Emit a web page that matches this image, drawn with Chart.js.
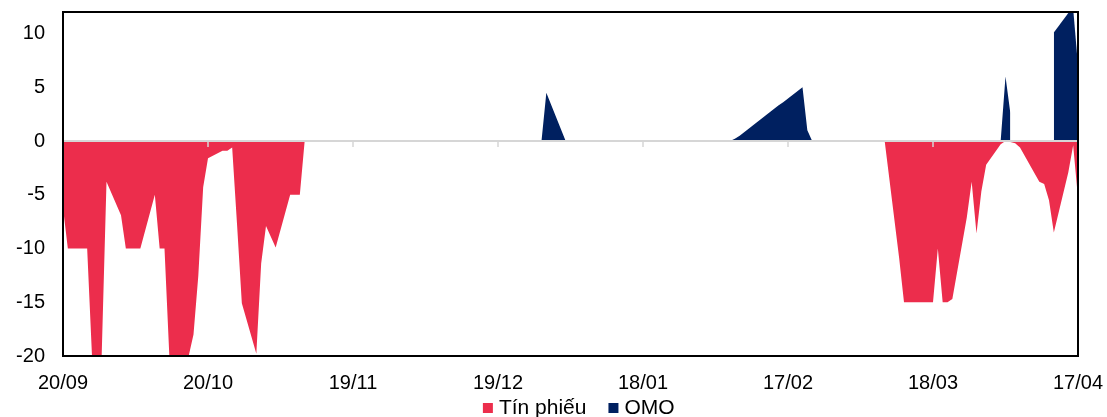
<!DOCTYPE html>
<html><head><meta charset="utf-8">
<script src="https://cdn.jsdelivr.net/npm/chart.js@4.4.0/dist/chart.umd.min.js"></script>
<style>html,body{margin:0;padding:0;background:#fff;overflow:hidden}#wrap{width:1107px;height:417px;position:relative}</style>
</head><body><div id="wrap"><canvas id="c" width="1107" height="417"></canvas></div>
<script>
const dates = [
'2023-09-20','2023-09-21','2023-09-22',
'2023-09-25','2023-09-26','2023-09-27','2023-09-28','2023-09-29',
'2023-10-02','2023-10-03','2023-10-04','2023-10-05','2023-10-06',
'2023-10-09','2023-10-10','2023-10-11','2023-10-12','2023-10-13',
'2023-10-16','2023-10-17','2023-10-18','2023-10-19','2023-10-20',
'2023-10-23','2023-10-24','2023-10-25','2023-10-26','2023-10-27',
'2023-10-30','2023-10-31','2023-11-01','2023-11-02','2023-11-03',
'2023-11-06','2023-11-07','2023-11-08','2023-11-09','2023-11-10',
'2023-11-13','2023-11-14','2023-11-15','2023-11-16','2023-11-17',
'2023-11-20','2023-11-21','2023-11-22','2023-11-23','2023-11-24',
'2023-11-27','2023-11-28','2023-11-29','2023-11-30','2023-12-01',
'2023-12-04','2023-12-05','2023-12-06','2023-12-07','2023-12-08',
'2023-12-11','2023-12-12','2023-12-13','2023-12-14','2023-12-15',
'2023-12-18','2023-12-19','2023-12-20','2023-12-21','2023-12-22',
'2023-12-25','2023-12-26','2023-12-27','2023-12-28','2023-12-29',
'2024-01-02','2024-01-03','2024-01-04','2024-01-05',
'2024-01-08','2024-01-09','2024-01-10','2024-01-11','2024-01-12',
'2024-01-15','2024-01-16','2024-01-17','2024-01-18','2024-01-19',
'2024-01-22','2024-01-23','2024-01-24','2024-01-25','2024-01-26',
'2024-01-29','2024-01-30','2024-01-31','2024-02-01','2024-02-02',
'2024-02-05','2024-02-06','2024-02-07',
'2024-02-15','2024-02-16',
'2024-02-19','2024-02-20','2024-02-21','2024-02-22','2024-02-23',
'2024-02-26','2024-02-27','2024-02-28','2024-02-29','2024-03-01',
'2024-03-04','2024-03-05','2024-03-06','2024-03-07','2024-03-08',
'2024-03-11','2024-03-12','2024-03-13','2024-03-14','2024-03-15',
'2024-03-18','2024-03-19','2024-03-20','2024-03-21','2024-03-22',
'2024-03-25','2024-03-26','2024-03-27','2024-03-28','2024-03-29',
'2024-04-01','2024-04-02','2024-04-03','2024-04-04','2024-04-05',
'2024-04-08','2024-04-09','2024-04-10','2024-04-11','2024-04-12',
'2024-04-15','2024-04-16','2024-04-17'
];
const tinPhieu = [
-6.2,-10,-10,
-10,-20,-20,-20,-3.8,
-6.9,-10,-10,-10,-10,
-5,-10,-10,-20,-20,
-20,-18,-12.5,-4.3,-1.6,
-0.9,-0.9,-0.6,-7.7,-15.1,
-19.8,-11.4,-7.9,-8.9,-9.9,
-5,-5,-5,0,0,
0,0,0,0,0,
0,0,0,0,0,
0,0,0,0,0,
0,0,0,0,0,
0,0,0,0,0,
0,0,0,0,0,
0,0,0,0,0,
0,0,0,0,
0,0,0,0,0,
0,0,0,0,0,
0,0,0,0,0,
0,0,0,0,0,
0,0,0,
0,0,
0,0,0,0,0,
0,0,0,0,0,
0,0,0,0,0,
-10.9,-15,-15,-15,-15,
-15,-10,-15,-15,-14.7,
-7.1,-3.8,-8.6,-4.7,-2.2,
-0.3,0,-0.1,-0.2,-0.6,
-3.0,-3.8,-4.0,-5.5,-8.5,
-2.9,-0.4,-5.3
];
const omo = [
0,0,0,
0,0,0,0,0,
0,0,0,0,0,
0,0,0,0,0,
0,0,0,0,0,
0,0,0,0,0,
0,0,0,0,0,
0,0,0,0,0,
0,0,0,0,0,
0,0,0,0,0,
0,0,0,0,0,
0,0,0,0,0,
0,0,0,0,0,
0,0,0,0,0,
0,0,0,0,4.5,
0,0,0,0,
0,0,0,0,0,
0,0,0,0,0,
0,0,0,0,0,
0,0,0,0,0,
0,0.2,0.5,
3.3,3.6,
4.65,5,1,0,0,
0,0,0,0,0,
0,0,0,0,0,
0,0,0,0,0,
0,0,0,0,0,
0,0,0,0,0,
0,6,2.6,null,null,
null,null,null,null,10.1,
11.9,12.3,7
];
const seriesNames = ['Tín phiếu', 'OMO'];
const tickDates = ['2023-09-20','2023-10-20','2023-11-19','2023-12-19','2024-01-18','2024-02-17','2024-03-18','2024-04-17'];
const yTicks = [-20, -15, -10, -5, 0, 5, 10];

const DAY = 864e5;
const t0 = Date.parse(dates[0]);
const off = s => Math.round((Date.parse(s) - t0) / DAY);
const pts = arr => arr.map((v, i) => ({x: off(dates[i]), y: v}));
const fmt = v => { const d = new Date(t0 + v * DAY); return String(d.getUTCDate()).padStart(2,'0') + '/' + String(d.getUTCMonth()+1).padStart(2,'0'); };

Chart.defaults.font.family = 'Liberation Sans, Arial, sans-serif';
Chart.defaults.font.size = 20;
Chart.defaults.color = '#000';

const frame = {
  id: 'frame',
  afterLayout(chart) {
    const l = chart.legend;
    if (l) {
      l.left += 35; l.right += 35;
      l.top = chart.chartArea.bottom + 15; l.bottom = l.top + l.height;
    }
  },
  afterDatasetsDraw(chart) {
    const {ctx, chartArea: a, scales: {x, y}} = chart;
    const y0 = y.getPixelForValue(0);
    ctx.save();
    ctx.strokeStyle = '#d6d6d6';
    ctx.lineWidth = 2;
    ctx.beginPath(); ctx.moveTo(a.left, y0); ctx.lineTo(a.right, y0); ctx.stroke();
    ctx.lineWidth = 1.5;
    x.ticks.forEach(t => {
      const px = x.getPixelForValue(t.value);
      ctx.beginPath(); ctx.moveTo(px, y0); ctx.lineTo(px, y0 + 6); ctx.stroke();
    });
    ctx.strokeStyle = '#000';
    ctx.lineWidth = 2;
    ctx.strokeRect(a.left, a.top, a.right - a.left, a.bottom - a.top);
    ctx.restore();
  }
};

new Chart(document.getElementById('c'), {
  type: 'line',
  data: {
    datasets: [
      {label: seriesNames[0], data: pts(tinPhieu), backgroundColor: '#EC2D4C', borderColor: 'transparent', borderWidth: 0, pointRadius: 0, fill: 'origin', spanGaps: 10, tension: 0},
      {label: seriesNames[1], data: pts(omo), backgroundColor: '#002060', borderColor: 'transparent', borderWidth: 0, pointRadius: 0, fill: 'origin', spanGaps: 10, tension: 0}
    ]
  },
  options: {
    responsive: false,
    devicePixelRatio: 1,
    animation: false,
    events: [],
    layout: {padding: {left: 14, right: 29, top: 12, bottom: -40.5}},
    scales: {
      x: {
        type: 'linear',
        min: 0,
        max: off(dates[dates.length - 1]),
        afterBuildTicks: s => { s.ticks = tickDates.map(d => ({value: off(d)})); },
        afterFit: s => { s.height = 44; s.paddingLeft = 0; s.paddingRight = 0; s.paddingTop = 0; s.paddingBottom = 0; },
        ticks: {callback: v => fmt(v), maxRotation: 0, autoSkip: false, padding: 15},
        grid: {display: false, drawTicks: false},
        border: {display: false}
      },
      y: {
        min: -20,
        max: 12,
        afterBuildTicks: s => { s.ticks = yTicks.map(v => ({value: v})); },
        afterFit: s => { s.width = 49; s.paddingLeft = 0; s.paddingRight = 0; s.paddingTop = 0; s.paddingBottom = 0; },
        ticks: {padding: 18},
        grid: {display: false, drawTicks: false},
        border: {display: false}
      }
    },
    plugins: {
      legend: {position: 'bottom', labels: {usePointStyle: true, pointStyle: 'rect', boxWidth: 1, boxHeight: 10, padding: 26.5, font: {size: 21}}},
      tooltip: {enabled: false}
    }
  },
  plugins: [frame]
});
</script>
</body></html>
